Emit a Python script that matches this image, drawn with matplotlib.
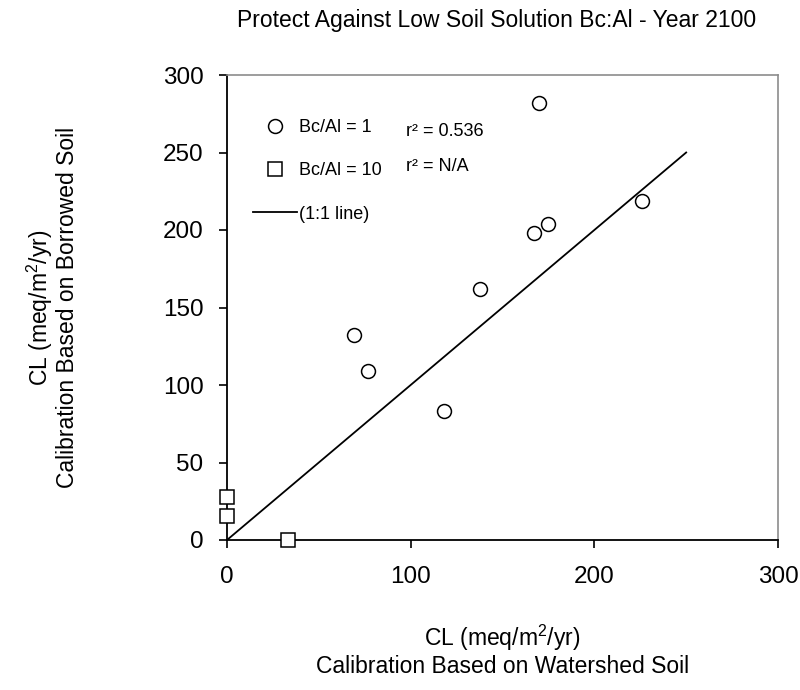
import matplotlib
matplotlib.use("Agg")
import matplotlib.pyplot as plt
from matplotlib.ticker import MultipleLocator

plt.rcParams['font.family'] = ['Liberation Sans', 'DejaVu Sans']
plt.rcParams['mathtext.fontset'] = 'custom'
plt.rcParams['mathtext.rm'] = 'Liberation Sans'
plt.rcParams['mathtext.it'] = 'Liberation Sans:italic'

# critical loads, watershed-soil calibration vs borrowed-soil calibration
bcal1_watershed = [170, 226, 175, 167, 138, 118, 69, 77]
bcal1_borrowed = [282, 219, 204, 198, 162, 83, 132, 109]
bcal10_watershed = [0, 0, 33]
bcal10_borrowed = [28, 15.5, 0]
one_to_one = [0, 250]

r2_labels = ["r² = 0.536", "r² = N/A"]

fig = plt.figure(figsize=(8, 6.9), dpi=100)
ax = fig.add_axes([227 / 800, 1 - 540 / 690, 551 / 800, 465 / 690])

mk = dict(linestyle='none', markerfacecolor='white', markeredgecolor='black',
          markersize=10, markeredgewidth=1.1)
ax.plot(bcal1_watershed, bcal1_borrowed, marker='o', label='Bc/Al = 1', zorder=3, **mk)
ax.plot(bcal10_watershed, bcal10_borrowed, marker='s', label='Bc/Al = 10',
        clip_on=False, zorder=3, **mk)
ax.plot(one_to_one, one_to_one, color='black', linewidth=1.3, label='(1:1 line)')

ax.set_xlim(0, 300)
ax.set_ylim(0, 300)
ax.xaxis.set_major_locator(MultipleLocator(100))
ax.yaxis.set_major_locator(MultipleLocator(50))
ax.tick_params(direction='out', length=6, width=1.2, labelsize=17.5)
ax.tick_params(axis='x', pad=13)
ax.tick_params(axis='y', pad=11)

for side in ('left', 'bottom'):
    ax.spines[side].set_color('black')
    ax.spines[side].set_linewidth(1.3)
for side in ('top', 'right'):
    ax.spines[side].set_color('#8c8c8c')
    ax.spines[side].set_linewidth(1.2)

ax.set_xlabel('CL (meq/m$^2$/yr)\nCalibration Based on Watershed Soil',
              fontsize=16.5, linespacing=1.1, labelpad=25)
ax.set_ylabel('CL (meq/m$^2$/yr)\nCalibration Based on Borrowed Soil',
              fontsize=16.5, linespacing=1.1, labelpad=60)

leg = ax.legend(loc='upper left', bbox_to_anchor=(0.047, 0.905), frameon=False,
                fontsize=13, handlelength=2.44, handletextpad=0.1,
                labelspacing=1.45, borderpad=0, borderaxespad=0)

ax.text(0.325, 0.8785, r2_labels[0], transform=ax.transAxes, fontsize=13, va='center')
ax.text(0.325, 0.803, r2_labels[1], transform=ax.transAxes, fontsize=13, va='center')

fig.text(0.621, 1 - 20 / 690, 'Protect Against Low Soil Solution Bc:Al - Year 2100',
         ha='center', va='center', fontsize=16.5)

fig.savefig('out.png', dpi=100)
